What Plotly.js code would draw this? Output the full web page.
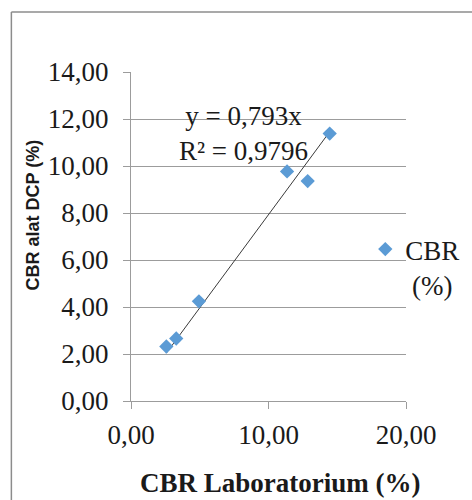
<!DOCTYPE html>
<html>
<head>
<meta charset="utf-8">
<script src="https://cdn.plot.ly/plotly-3.0.1.min.js"></script>
<style>
  html, body { margin: 0; padding: 0; background: #fff; }
  #chart { width: 472px; height: 500px; }
</style>
</head>
<body>
<div id="chart"></div>
<script>
// Data
const cbrLab = [2.57, 3.29, 4.94, 11.35, 12.85, 14.45];   // CBR Laboratorium (%)
const cbrDcp = [2.32, 2.66, 4.24, 9.77, 9.36, 11.38];     // CBR alat DCP (%)
const seriesName = "CBR<br>\u00A0(%)";
const trendSlope = 0.793;
const equationText = "y = 0,793x<br>R² = 0,9796";
const xTickVals = [0, 10, 20];
const yTickVals = [0, 2, 4, 6, 8, 10, 12, 14];
const xTitle = "CBR Laboratorium (%)";
const yTitle = "CBR alat DCP (%)";

const trendX = [Math.min(...cbrLab), Math.max(...cbrLab)];
const trendY = trendX.map(v => trendSlope * v);

const serif = "'Liberation Serif', 'Times New Roman', serif";
const sans = "'Liberation Sans', Arial, sans-serif";
const txt = "#1a1a1a";
const grid = "#9c9c9c";

const traces = [
  {
    x: trendX, y: trendY, type: "scatter", mode: "lines",
    line: { color: "#3a3a3a", width: 1 },
    showlegend: false, hoverinfo: "skip"
  },
  {
    x: cbrLab, y: cbrDcp, type: "scatter", mode: "markers",
    name: seriesName,
    marker: { symbol: "diamond", size: 11, color: "#5B9BD5" }
  }
];

const layout = {
  width: 472, height: 500,
  margin: { l: 131, r: 66, t: 72, b: 99, pad: 0, autoexpand: false },
  paper_bgcolor: "#ffffff", plot_bgcolor: "#ffffff",
  separators: ", ",
  font: { family: serif, size: 27, color: txt },
  showlegend: true,
  legend: {
    x: 0.852, y: 0.535, xanchor: "left", yanchor: "top",
    valign: "top", bgcolor: "rgba(0,0,0,0)",
    font: { family: serif, size: 27, color: txt },
    itemclick: false, itemdoubleclick: false
  },
  xaxis: {
    range: [0, 20], tickvals: xTickVals, tickformat: ".2f",
    showgrid: false, zeroline: false,
    showline: true, linecolor: grid, linewidth: 1,
    ticks: "outside", ticklen: 7, tickcolor: grid, tickwidth: 1,
    ticklabelstandoff: 3,
    tickfont: { family: serif, size: 27, color: txt },
    fixedrange: true
  },
  yaxis: {
    range: [0, 14], tickvals: yTickVals, tickformat: ".2f",
    showgrid: true, gridcolor: grid, gridwidth: 1, zeroline: false,
    showline: true, linecolor: grid, linewidth: 1,
    ticks: "outside", ticklen: 7, tickcolor: grid, tickwidth: 1,
    ticklabelstandoff: 9,
    tickfont: { family: serif, size: 27, color: txt },
    fixedrange: true
  },
  annotations: [
    {
      text: equationText, xref: "x", yref: "y", x: 8.17, y: 11.38,
      showarrow: false, xanchor: "center", yanchor: "middle",
      font: { family: serif, size: 27, color: txt }
    },
    {
      text: "<b>" + xTitle + "</b>", xref: "paper", yref: "paper",
      x: 0.54, y: -0.25, showarrow: false, xanchor: "center", yanchor: "middle",
      font: { family: serif, size: 27, color: txt }
    },
    {
      text: "<b>" + yTitle + "</b>", xref: "paper", yref: "paper",
      x: -0.356, y: 0.564, textangle: -90, showarrow: false,
      xanchor: "center", yanchor: "middle",
      font: { family: sans, size: 18, color: txt }
    }
  ],
  shapes: [
    { type: "line", xref: "paper", yref: "paper", x0: -0.435, x1: -0.435, y0: 1.182, y1: -0.35,
      line: { color: "#8c8c8c", width: 1.5 } },
    { type: "line", xref: "paper", yref: "paper", x0: -0.435, x1: 1.3, y0: 1.182, y1: 1.182,
      line: { color: "#8c8c8c", width: 1.5 } }
  ]
};

Plotly.newPlot("chart", traces, layout, { displayModeBar: false, staticPlot: true });
</script>
</body>
</html>
